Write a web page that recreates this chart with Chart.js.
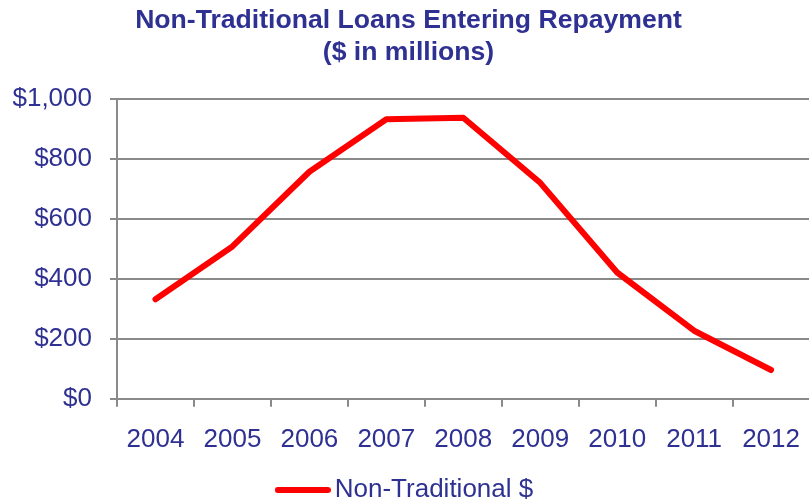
<!DOCTYPE html>
<html>
<head>
<meta charset="utf-8">
<title>Non-Traditional Loans Entering Repayment</title>
<script src="https://cdn.jsdelivr.net/npm/chart.js@4/dist/chart.umd.min.js"></script>
<style>
  html, body { margin: 0; padding: 0; background: #fff; overflow: hidden; }
  /* the original is cropped: plot runs past the right edge */
  #wrap { width: 809px; height: 500px; overflow: hidden; }
</style>
</head>
<body>
<div id="wrap"><canvas id="loanChart" width="817" height="513"></canvas></div>
<script>
// Data
const years = ['2004', '2005', '2006', '2007', '2008', '2009', '2010', '2011', '2012'];
const nonTraditional = [332, 508, 757, 932, 937, 720, 421, 227, 96];
const yTicks = [0, 200, 400, 600, 800, 1000];
const seriesLabel = 'Non-Traditional $';
const titleLines = ['Non-Traditional Loans Entering Repayment', '($ in millions)'];

const NAVY = '#2E3192';
const RED = '#FF0000';
const GRID = '#8a8a8a';
const FONT = 'Arial, "Liberation Sans", sans-serif';
const Y_AXIS_WIDTH = 117;

/**
 * Formats a tick value as whole dollars, e.g. 1000 -> "$1,000".
 * @param {number} v
 * @returns {string}
 */
const dollars = (v) => '$' + Number(v).toLocaleString('en-US');

/**
 * Small line swatch for the legend. Wider than the legend box so the
 * text sits close to the line, like the original.
 */
const makeLegendSwatch = () => {
  const c = document.createElement('canvas');
  c.width = 56;
  c.height = 8;
  const g = c.getContext('2d');
  g.strokeStyle = RED;
  g.lineWidth = 6;
  g.lineCap = 'round';
  g.beginPath();
  g.moveTo(3, 4);
  g.lineTo(53, 4);
  g.stroke();
  return c;
};

const createLoanChart = (canvasId) => {
  const canvas = document.getElementById(canvasId);
  if (!canvas) {
    throw new Error(`Canvas element with ID "${canvasId}" not found.`);
  }
  const ctx = canvas.getContext('2d');
  return new Chart(ctx, {
    type: 'line',
    data: {
      labels: years,
      datasets: [{
        label: seriesLabel,
        data: nonTraditional,
        borderColor: RED,
        backgroundColor: RED,
        borderWidth: 6,
        borderCapStyle: 'round',
        borderJoinStyle: 'round',
        pointRadius: 0,
        pointHoverRadius: 0,
        tension: 0,
        fill: false
      }]
    },
    options: {
      responsive: false,
      animation: false,
      devicePixelRatio: 1,
      layout: { padding: 0 },
      plugins: {
        title: {
          display: true,
          text: titleLines,
          color: NAVY,
          font: { family: FONT, size: 26.6, weight: 'bold', lineHeight: 1.2 },
          padding: { top: 5, bottom: 30 }
        },
        legend: {
          display: true,
          position: 'bottom',
          labels: {
            color: NAVY,
            font: { family: FONT, size: 26 },
            usePointStyle: true,
            pointStyle: makeLegendSwatch(),
            pointStyleWidth: 38,
            boxHeight: 26,
            padding: 5
          }
        },
        tooltip: { enabled: false }
      },
      scales: {
        x: {
          offset: true,
          grid: {
            offset: true,
            drawOnChartArea: false,
            drawTicks: true,
            tickLength: 8,
            color: GRID,
            lineWidth: 2
          },
          border: { display: true, color: GRID, width: 2 },
          ticks: {
            color: NAVY,
            font: { family: FONT, size: 26 },
            padding: 17,
            maxRotation: 0,
            autoSkip: false
          }
        },
        y: {
          min: yTicks[0],
          max: yTicks[yTicks.length - 1],
          afterBuildTicks: (axis) => { axis.ticks = yTicks.map((v) => ({ value: v })); },
          afterFit: (axis) => { axis.width = Y_AXIS_WIDTH; },
          grid: {
            drawTicks: true,
            tickLength: 7,
            color: GRID,
            lineWidth: 2
          },
          border: { display: true, color: GRID, width: 2 },
          ticks: {
            color: NAVY,
            font: { family: FONT, size: 26 },
            padding: 18,
            callback: (v) => dollars(v)
          }
        }
      }
    }
  });
};

createLoanChart('loanChart');
</script>
</body>
</html>
